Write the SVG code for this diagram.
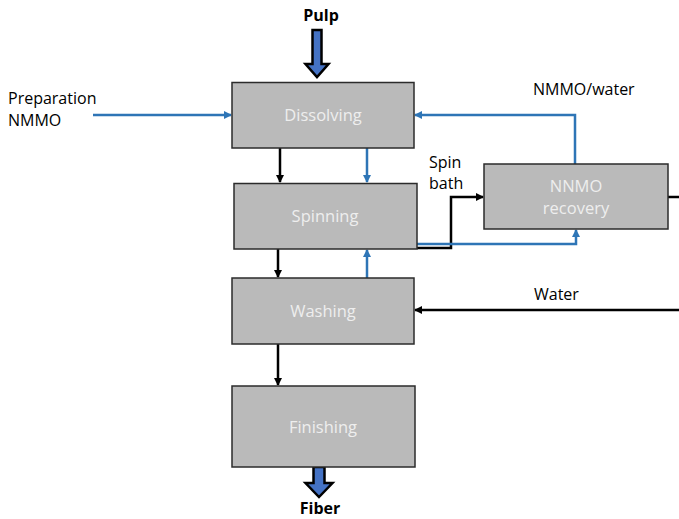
<svg xmlns="http://www.w3.org/2000/svg" width="679" height="519" viewBox="0 0 679 519">
<defs>
<style>
.box{fill:#bababa;stroke:#2b2b2b;stroke-width:1.5}
.bt{font-family:"Open Sans","Liberation Sans",sans-serif;font-size:16.5px;fill:#eeeeee;text-anchor:middle}
.lt{font-family:"Open Sans","Liberation Sans",sans-serif;font-size:16px;fill:#000}
.bold{font-family:"Open Sans","Liberation Sans",sans-serif;font-size:16px;font-weight:bold;fill:#000;text-anchor:middle}
.k{fill:none;stroke:#000;stroke-width:2.5}
.b{fill:none;stroke:#2e75b6;stroke-width:2.5}
.big{fill:#4472c4;stroke:#000;stroke-width:2.5;stroke-linejoin:miter}
</style>
<marker id="ak" markerWidth="8" markerHeight="8" refX="7" refY="4" orient="auto" markerUnits="userSpaceOnUse" viewBox="0 0 8 8"><path d="M0,0 L8,4 L0,8 Z" fill="#000"/></marker>
<marker id="ab" markerWidth="8" markerHeight="8" refX="7" refY="4" orient="auto" markerUnits="userSpaceOnUse" viewBox="0 0 8 8"><path d="M0,0 L8,4 L0,8 Z" fill="#2e75b6"/></marker>
</defs>
<g id="connectors">
<path class="b" d="M93,115 L231,115" marker-end="url(#ab)"/>
<path class="b" d="M575,164 L575,115 L415,115" marker-end="url(#ab)"/>
<path class="k" d="M280,148 L280,182" marker-end="url(#ak)"/>
<path class="b" d="M367,148 L367,182" marker-end="url(#ab)"/>
<path class="k" d="M278,249 L278,277" marker-end="url(#ak)"/>
<path class="b" d="M367,278 L367,250" marker-end="url(#ab)"/>
<path class="k" d="M278,344 L278,385" marker-end="url(#ak)"/>
<path class="k" d="M417,248 L451,248 L451,197 L483,197" marker-end="url(#ak)"/>
<path class="b" d="M417,244 L576,244 L576,230" marker-end="url(#ab)"/>
<path class="k" d="M668,197 L679,197"/>
<path class="k" d="M679,310 L415,310" marker-end="url(#ak)"/>
<path class="big" d="M312.5,30 L321.5,30 L321.5,64 L328.5,64 L317,77 L305.5,64 L312.5,64 Z"/>
<path class="big" d="M313.5,467 L324.5,467 L324.5,483 L332.5,483 L319,497 L305.5,483 L313.5,483 Z"/>
</g>
<g id="dissolving"><rect class="box" x="232" y="82.5" width="182" height="65.5"/><text class="bt" x="323" y="121">Dissolving</text></g>
<g id="spinning"><rect class="box" x="234" y="183.5" width="183" height="65.5"/><text class="bt" x="325" y="222">Spinning</text></g>
<g id="washing"><rect class="box" x="232" y="278" width="182" height="66"/><text class="bt" x="323" y="317">Washing</text></g>
<g id="finishing"><rect class="box" x="232" y="386" width="183" height="81"/><text class="bt" x="323" y="433">Finishing</text></g>
<g id="nnmo"><rect class="box" x="484" y="164" width="184" height="65"/><text class="bt" x="576" y="192">NNMO</text><text class="bt" x="576" y="214">recovery</text></g>
<g id="labels">
<text class="bold" x="321" y="21">Pulp</text>
<text class="bold" x="320" y="514">Fiber</text>
<text class="lt" x="8" y="104">Preparation</text>
<text class="lt" x="8" y="126">NMMO</text>
<text class="lt" x="533" y="95">NMMO/water</text>
<text class="lt" x="429" y="168">Spin</text>
<text class="lt" x="429" y="189">bath</text>
<text class="lt" x="534" y="300">Water</text>
</g>
</svg>
